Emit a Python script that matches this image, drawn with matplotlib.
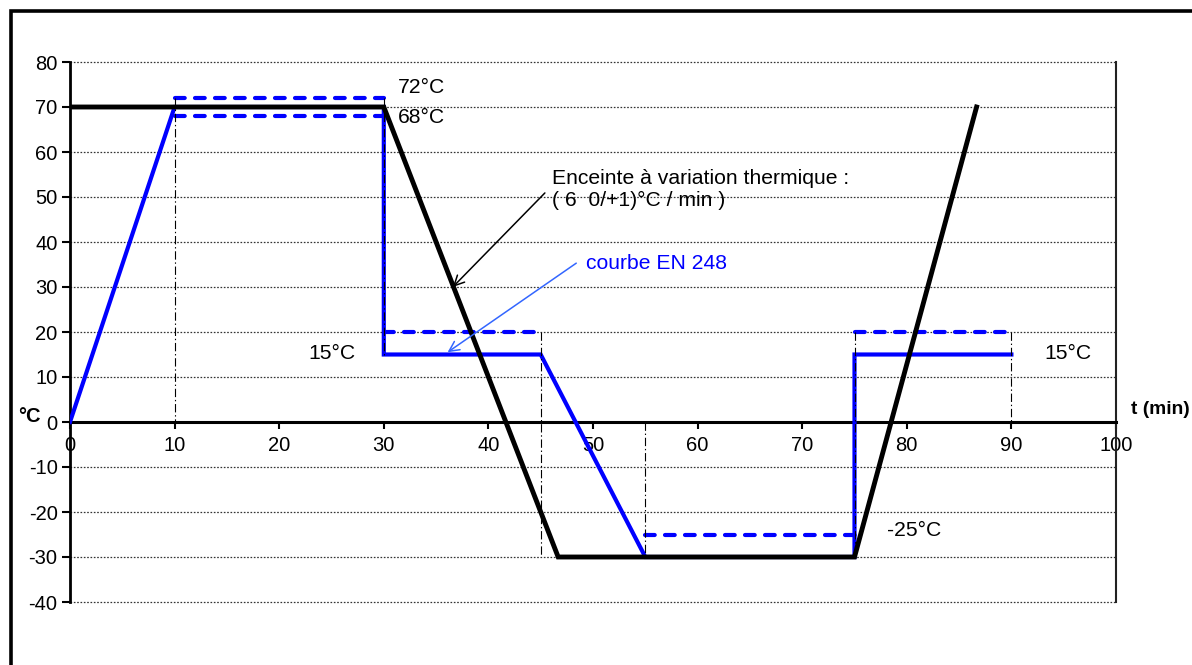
import matplotlib
matplotlib.use("Agg")
import matplotlib.pyplot as plt
from matplotlib.patches import Rectangle

plt.rcParams['font.family'] = ['Liberation Sans', 'DejaVu Sans']
plt.rcParams['lines.scale_dashes'] = False
plt.rcParams['axes.unicode_minus'] = False

# ---- data ----
x_ticks = [0, 10, 20, 30, 40, 50, 60, 70, 80, 90, 100]
y_ticks = [-40, -30, -20, -10, 0, 10, 20, 30, 40, 50, 60, 70, 80]

# thermal chamber (black)
t_chamber = [0, 30, 46.67, 75, 86.67]
T_chamber = [70, 70, -30, -30, 70]

# EN 248 curve (blue)
t_en = [0, 10, 30, 30, 45, 55, 75, 75, 90]
T_en = [0, 70, 70, 15, 15, -30, -30, 15, 15]

# tolerance segments (blue dashed): (t_start, t_end, T)
tol_t0 = [10, 10, 30, 55, 75]
tol_t1 = [30, 30, 45, 75, 90]
tol_T = [72, 68, 20, -25, 20]

# reference vertical dash-dot lines: (t, T_from, T_to)
ref_t = [10, 30, 45, 55, 75, 90]
ref_T0 = [72, 72, 20, 0, 20, 20]
ref_T1 = [0, 15, -30, -30, -30, 0]

W, H = 1192, 665
fig = plt.figure(figsize=(W / 100, H / 100), dpi=100)
ax = fig.add_axes([70 / W, 1 - 602 / H, (1116 - 70) / W, (602 - 62) / H])
ax.set_xlim(0, 100)
ax.set_ylim(-40, 80)

# grid lines (dotted)
for y in y_ticks:
    if y == 0:
        continue
    ax.axhline(y, ls=(0, (1.2, 1.2)), lw=0.9, color='#333333', zorder=0.5, clip_on=False)

# spines
ax.spines['top'].set_visible(False)
ax.spines['left'].set_linewidth(2)
ax.spines['right'].set_linewidth(1.5)
ax.spines['right'].set_color('#222222')
ax.spines['bottom'].set_position(('data', 0))
ax.spines['bottom'].set_linewidth(2.2)

ax.set_xticks(x_ticks)
ax.set_yticks(y_ticks)
ax.tick_params(axis='x', direction='out', length=5, width=1.5, labelsize=14.5, pad=5)
ax.tick_params(axis='y', direction='out', length=6, width=1.5, labelsize=14.5, pad=3)

# blue dashed tolerances
for a, b, v in zip(tol_t0, tol_t1, tol_T):
    ln, = ax.plot([a, b], [v, v], color='#0000ff', lw=3.0, solid_capstyle='round',
                  dash_capstyle='round', zorder=2)
    ln.set_dashes((7.0, 7.4))

# blue EN curve
ax.plot(t_en, T_en, color='#0000ff', lw=3.0, zorder=3, solid_joinstyle='miter')

# dash-dot reference lines
for t, a, b in zip(ref_t, ref_T0, ref_T1):
    ax.plot([t, t], [a, b], color='black', lw=0.8, ls=(0, (6, 2, 1, 2)), zorder=4)

# black chamber curve
ax.plot(t_chamber, T_chamber, color='black', lw=3.5, zorder=5, solid_joinstyle='miter')

# annotations
fs = 15.2
ax.text(31.35, 74.3, "72°C", fontsize=fs, va='center', ha='left')
ax.text(31.35, 67.6, "68°C", fontsize=fs, va='center', ha='left')
ax.text(46.1, 54.2, "Enceinte à variation thermique :", fontsize=fs, va='center', ha='left')
ax.text(46.1, 49.3, "( 6  0/+1)°C / min )", fontsize=fs, va='center', ha='left')
ax.text(49.3, 35.3, "courbe EN 248", fontsize=fs, va='center', ha='left', color='#0000ff')
ax.text(27.3, 15.3, "15°C", fontsize=fs, va='center', ha='right')
ax.text(93.2, 15.3, "15°C", fontsize=fs, va='center', ha='left')
ax.text(78.1, -24.0, "-25°C", fontsize=fs, va='center', ha='left')

ax.annotate("", xy=(36.6, 30.0), xytext=(45.4, 50.9),
            arrowprops=dict(arrowstyle='->', color='black', lw=1.1,
                            mutation_scale=18, shrinkA=0, shrinkB=0), zorder=6)
ax.annotate("", xy=(36.1, 15.5), xytext=(48.4, 35.3),
            arrowprops=dict(arrowstyle='->', color='#3366ff', lw=1.1,
                            mutation_scale=18, shrinkA=0, shrinkB=0), zorder=6)

# axis labels
fig.text(29 / W, 1 - 416 / H, "°C", fontsize=14.5, fontweight='bold', ha='center', va='center')
fig.text(1131 / W, 1 - 410 / H, "t (min)", fontsize=13.8, fontweight='bold', ha='left', va='center')

# outer frame (extends beyond the right/bottom edge)
fig.patches.append(Rectangle((11 / W, -0.1), 1.2, 1.1 - 11 / H, transform=fig.transFigure,
                             fill=False, lw=2.6, edgecolor='black', zorder=10))

fig.savefig("out.png", dpi=100)
